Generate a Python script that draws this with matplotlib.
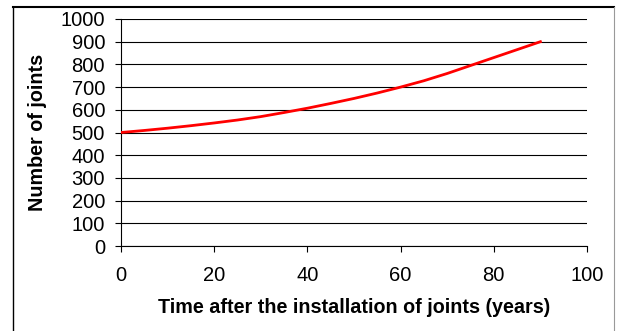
import numpy as np
import matplotlib.pyplot as plt
from matplotlib.lines import Line2D

plt.rcParams['font.family'] = ['Liberation Sans', 'DejaVu Sans']

# data
years = [0, 5, 10, 15, 20, 25, 30, 35, 40, 45, 50, 55, 60, 65, 70, 75, 80, 85, 90]
joints = [500, 509, 519, 530, 542, 555, 570, 588, 607, 628, 650, 674, 700, 728, 760, 795, 830, 865, 900]

x_ticks = [0, 20, 40, 60, 80, 100]
y_ticks = list(range(0, 1001, 100))

W, H = 618, 331
fig = plt.figure(figsize=(W / 100, H / 100), dpi=100)
ax = fig.add_axes([121 / W, 1 - 246 / H, (587 - 121) / W, (246 - 19) / H])

ax.plot(years, joints, color='#ff0000', lw=2.0, zorder=3)

ax.set_xlim(0, 100)
ax.set_ylim(0, 1000)
ax.set_xticks(x_ticks)
ax.set_yticks(y_ticks)
ax.grid(axis='y', color='black', lw=0.8)
for s in ['top', 'right']:
    ax.spines[s].set_visible(False)
for s in ['left', 'bottom']:
    ax.spines[s].set_linewidth(0.8)
ax.tick_params(axis='both', direction='out', length=4.5, width=0.8, labelsize=14.5)
ax.tick_params(axis='y', pad=7)
ax.tick_params(axis='x', pad=10)

ax.set_xlabel('Time after the installation of joints (years)', fontsize=14.2, fontweight='bold', labelpad=9)
ax.set_ylabel('Number of joints', fontsize=14.2, fontweight='bold', labelpad=10)

# outer frame
fig.add_artist(Line2D([13 / W, 13 / W], [0, 1 - 7 / H], transform=fig.transFigure, color='black', lw=1.0))
fig.add_artist(Line2D([13 / W, 614 / W], [1 - 7 / H, 1 - 7 / H], transform=fig.transFigure, color='black', lw=1.5))
fig.add_artist(Line2D([614 / W, 614 / W], [0, 1 - 7 / H], transform=fig.transFigure, color='#999999', lw=0.8))

fig.savefig('out.png', dpi=100)
